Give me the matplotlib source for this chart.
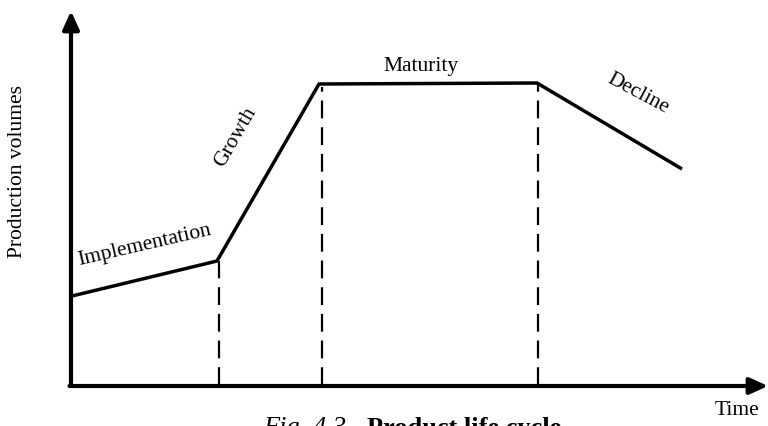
import matplotlib
matplotlib.use("Agg")
import matplotlib.pyplot as plt

plt.rcParams['font.family'] = ['Liberation Serif', 'DejaVu Serif']

# Data (time units, volume units) -- origin at the axes corner
time_pts = [1, 146, 248, 466, 611]
volume_pts = [90, 125, 302, 303, 217]
phase_bounds = [148, 251, 467]
phase_tops = [125, 299, 301]
stage_labels = ["Implementation", "Growth", "Maturity", "Decline"]

W, H = 768, 427
fig = plt.figure(figsize=(W / 100, H / 100), dpi=100)
ax_left, ax_bottom, ax_right, ax_top = 71, 40, 768, 415  # pixel coords (from bottom)
ax = fig.add_axes([ax_left / W, ax_bottom / H, (ax_right - ax_left) / W, (ax_top - ax_bottom) / H])
ax.set_xlim(0, ax_right - ax_left)
ax.set_ylim(0, ax_top - ax_bottom)
ax.axis('off')

# curve
ax.plot(time_pts, volume_pts, color='black', lw=2.5, solid_capstyle='butt', solid_joinstyle='miter')

# dashed phase boundaries
for xb, yt in zip(phase_bounds, phase_tops):
    ax.plot([xb, xb], [1, yt], color='black', lw=1.6, dashes=(8, 4))

# axes arrows
arrow_kw = dict(arrowstyle='-|>,head_length=1.1,head_width=0.5', color='black', lw=3, shrinkA=0, shrinkB=0)
ax.annotate('', xy=(0, 375), xytext=(0, 0), xycoords='data', textcoords='data', arrowprops=arrow_kw, annotation_clip=False)
ax.annotate('', xy=(697, 0), xytext=(-1.5, 0), xycoords='data', textcoords='data', arrowprops=arrow_kw, annotation_clip=False)

fs = 15.5
ax.text(73, 142, stage_labels[0], rotation=13, ha='center', va='center', fontsize=fs)
ax.text(165, 250, stage_labels[1], rotation=60, ha='center', va='center', fontsize=fs)
ax.text(350, 320, stage_labels[2], rotation=0, ha='center', va='center', fontsize=fs)
ax.text(567, 293, stage_labels[3], rotation=-28, ha='center', va='center', fontsize=fs)

fig.text(18 / W, 1 - 171 / H, "Production volumes", rotation=90, ha='center', va='center', fontsize=fs)
fig.text(737 / W, 1 - 411 / H, "Time", ha='center', va='center', fontsize=fs)

# caption (clipped at bottom in the original)
fig.text(263 / W, 1 - 417 / H, "Fig. 4.3.", style='italic', ha='left', va='top', fontsize=19)
fig.text(367 / W, 1 - 417 / H, "Product life cycle", weight='bold', ha='left', va='top', fontsize=19)

fig.savefig("out.png", dpi=100)
